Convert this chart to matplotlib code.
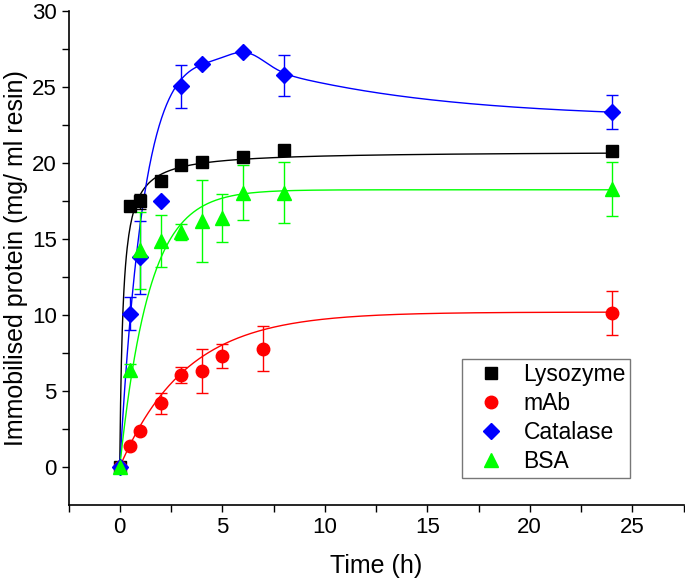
import numpy as np
import matplotlib
matplotlib.use("Agg")
import matplotlib.pyplot as plt
from matplotlib.lines import Line2D

plt.rcParams['font.family'] = ['Liberation Sans', 'DejaVu Sans']

# Messwerte (Zeit in h, Protein in mg/ml Harz)
t_lys = [0, 0.5, 1, 2, 3, 4, 6, 8, 24]
y_lys = [0, 17.2, 17.5, 18.85, 19.9, 20.1, 20.4, 20.87, 20.8]
e_lys = [0, 0, 0.5, 0, 0, 0, 0, 0, 0]

t_mab = [0, 0.5, 1, 2, 3, 4, 5, 7, 24]
y_mab = [0, 1.39, 2.38, 4.2, 6.05, 6.3, 7.33, 7.8, 10.15]
e_mab = [0, 0, 0, 0.7, 0.55, 1.45, 0.8, 1.5, 1.45]

t_cat = [0, 0.5, 1, 2, 3, 4, 6, 8, 24]
y_cat = [0, 10.1, 13.8, 17.5, 25.05, 26.5, 27.3, 25.8, 23.36]
e_cat = [0, 1.08, 2.4, 0, 1.4, 0, 0, 1.35, 1.1]

t_bsa = [0, 0.5, 1, 2, 3, 4, 5, 6, 8, 24]
y_bsa = [0, 6.4, 14.27, 14.9, 15.47, 16.2, 16.4, 18.05, 18.05, 18.3]
e_bsa = [0, 0.4, 2.55, 1.7, 0.5, 2.7, 1.6, 1.8, 2.0, 1.8]

# Fit-Parameter
fit_lys = [20.8, 0.16]           # A*t/(K+t)
fit_mab = [10.2, 0.31]           # A*(1-exp(-k*t))
fit_bsa = [18.25, 0.7]           # A*(1-exp(-k*t))
fit_cat = [22.93, 0.8, 7.7, 0.12, 0.9, 6.2, 0.9]  # c, k1, b, k2, g, tg, s


def hyper(t, A, K):
    return A * t / (K + t)


def expo(t, A, k):
    return A * (1 - np.exp(-k * t))


def cat_model(t, c, k1, b, k2, g, tg, s):
    return (c * (1 - np.exp(-k1 * t)) + b * (np.exp(-k2 * t) - np.exp(-k1 * t))
            + g * np.exp(-(t - tg) ** 2 / (2 * s ** 2)))


tt = np.linspace(0, 24, 600)

fig = plt.figure(figsize=(6.85, 5.82), dpi=100, facecolor="white")
ax = fig.add_axes([68.5 / 685, 77 / 582, 615 / 685, 493.7 / 582])

ax.plot(tt, hyper(tt, *fit_lys), '-', color='black', linewidth=1)
ax.plot(tt, expo(tt, *fit_mab), '-', color='red', linewidth=1)
ax.plot(tt, cat_model(tt, *fit_cat), '-', color='blue', linewidth=1)
ax.plot(tt, expo(tt, *fit_bsa), '-', color='#00FF00', linewidth=1)

kw = dict(linestyle='none', capsize=4, elinewidth=1, capthick=1)
ax.errorbar(t_lys, y_lys, yerr=e_lys, marker='s', ms=8, color='black', **kw)
ax.errorbar(t_mab, y_mab, yerr=e_mab, marker='o', ms=9, color='red', **kw)
ax.errorbar(t_cat, y_cat, yerr=e_cat, marker='D', ms=8.5, color='blue', **kw)
ax.errorbar(t_bsa, y_bsa, yerr=e_bsa, marker='^', ms=10, color='#00FF00', **kw)

handles = [
    Line2D([], [], linestyle='none', marker='s', ms=8, color='black'),
    Line2D([], [], linestyle='none', marker='o', ms=9, color='red'),
    Line2D([], [], linestyle='none', marker='D', ms=8.5, color='blue'),
    Line2D([], [], linestyle='none', marker='^', ms=10, color='#00FF00'),
]
leg = ax.legend(handles, ['Lysozyme', 'mAb', 'Catalase', 'BSA'],
                loc='lower left', bbox_to_anchor=(0.64, 0.055), borderaxespad=0,
                fontsize=16.5, frameon=True, fancybox=False, labelspacing=0.26,
                handletextpad=0.38, borderpad=0.2, handlelength=2.1)
leg.get_frame().set_edgecolor('#555555')
leg.get_frame().set_linewidth(1)

ax.set_xlim(-2.5, 27.5)
ax.set_ylim(-2.5, 30)
ax.set_xticks([0, 5, 10, 15, 20, 25])
ax.set_xticks(np.arange(-2.5, 28, 5), minor=True)
ax.set_yticks([0, 5, 10, 15, 20, 25, 30])
ax.set_yticks(np.arange(2.5, 30, 5), minor=True)
ax.tick_params(which='both', direction='out', length=5, width=1, labelsize=16)

ax.spines['top'].set_visible(False)
ax.spines['right'].set_visible(False)
ax.spines['left'].set_linewidth(1.2)
ax.spines['bottom'].set_linewidth(1.2)

ax.set_xlabel('Time (h)', fontsize=18, labelpad=12)
ax.set_ylabel('Immobilised protein (mg/ ml resin)', fontsize=18, labelpad=3)

fig.savefig('out.png', dpi=100)
